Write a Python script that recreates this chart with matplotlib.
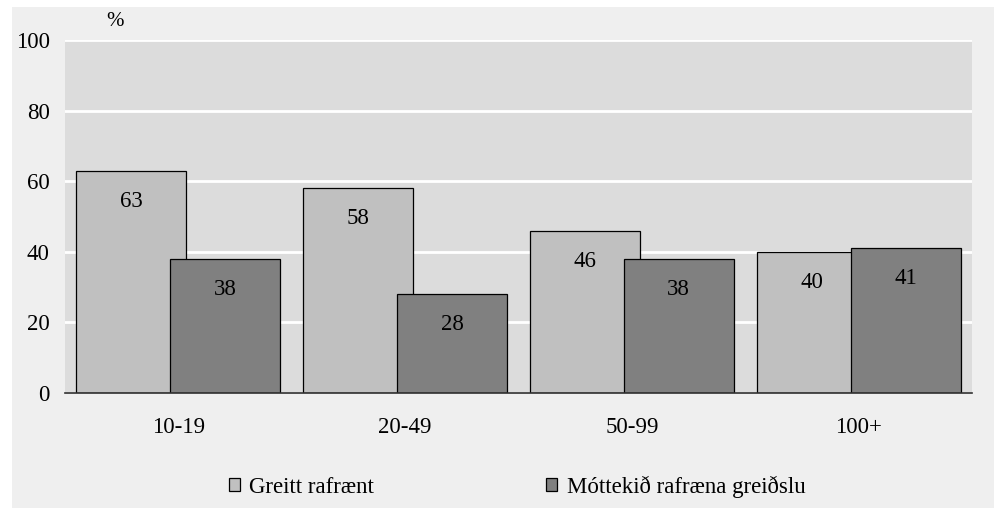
import matplotlib.pyplot as plt
import numpy as np
from matplotlib.patches import Rectangle

plt.rcParams['font.family'] = ['Liberation Serif', 'DejaVu Serif']

categories = ['10-19', '20-49', '50-99', '100+']
greitt = [63, 58, 46, 40]
mottekid = [38, 28, 38, 41]
series_names = ['Greitt rafrænt', 'Móttekið rafræna greiðslu']
yticks = [0, 20, 40, 60, 80, 100]

FS = 16.5

fig = plt.figure(figsize=(9.94, 5.08), dpi=100, facecolor='white')
# light gray panel, with a thin white strip on the left and top
fig.patches.append(Rectangle((12 / 994, 0), 1, 1 - 7 / 508, transform=fig.transFigure,
                             facecolor='#efefef', edgecolor='none', zorder=-5))

ax = fig.add_axes([65 / 994, 1 - 393 / 508, (972 - 65) / 994, (393 - 40) / 508])
ax.set_facecolor('#dcdcdc')

x = np.arange(len(categories))
w = 0.485
off = 0.207
b1 = ax.bar(x - off, greitt, w, color='#c0c0c0', edgecolor='black', linewidth=0.9,
            zorder=2, label=series_names[0])
b2 = ax.bar(x + off, mottekid, w, color='#808080', edgecolor='black', linewidth=0.9,
            zorder=3, label=series_names[1])

for bars, vals in ((b1, greitt), (b2, mottekid)):
    for r, v in zip(bars, vals):
        ax.annotate(str(v), (r.get_x() + r.get_width() / 2, r.get_height()),
                    xytext=(0, -22), textcoords='offset points',
                    ha='center', va='center', fontsize=FS, zorder=5)

ax.set_xlim(-0.5, len(categories) - 0.5)
ax.set_ylim(0, 100)
ax.set_yticks(yticks)
ax.set_xticks(x)
ax.set_xticklabels(categories)
ax.tick_params(axis='both', length=0, labelsize=FS)
ax.tick_params(axis='y', pad=11)
ax.tick_params(axis='x', pad=17)
ax.grid(axis='y', color='white', linewidth=2, zorder=1)
ax.set_axisbelow(True)
for s in ('top', 'right', 'left'):
    ax.spines[s].set_visible(False)
ax.spines['bottom'].set_color('#303030')
ax.spines['bottom'].set_linewidth(1.2)
ax.spines['bottom'].set_zorder(4)

fig.text(115 / 994, 1 - 22 / 508, '%', fontsize=15, ha='center', va='center')

fig.legend(loc='center', bbox_to_anchor=(517 / 994, 1 - 487 / 508), ncol=2,
           frameon=False, fontsize=FS, handlelength=0.5, handleheight=0.5,
           handletextpad=0.4, columnspacing=7.5, borderpad=0)

fig.savefig('out.png', dpi=100, facecolor=fig.get_facecolor())
